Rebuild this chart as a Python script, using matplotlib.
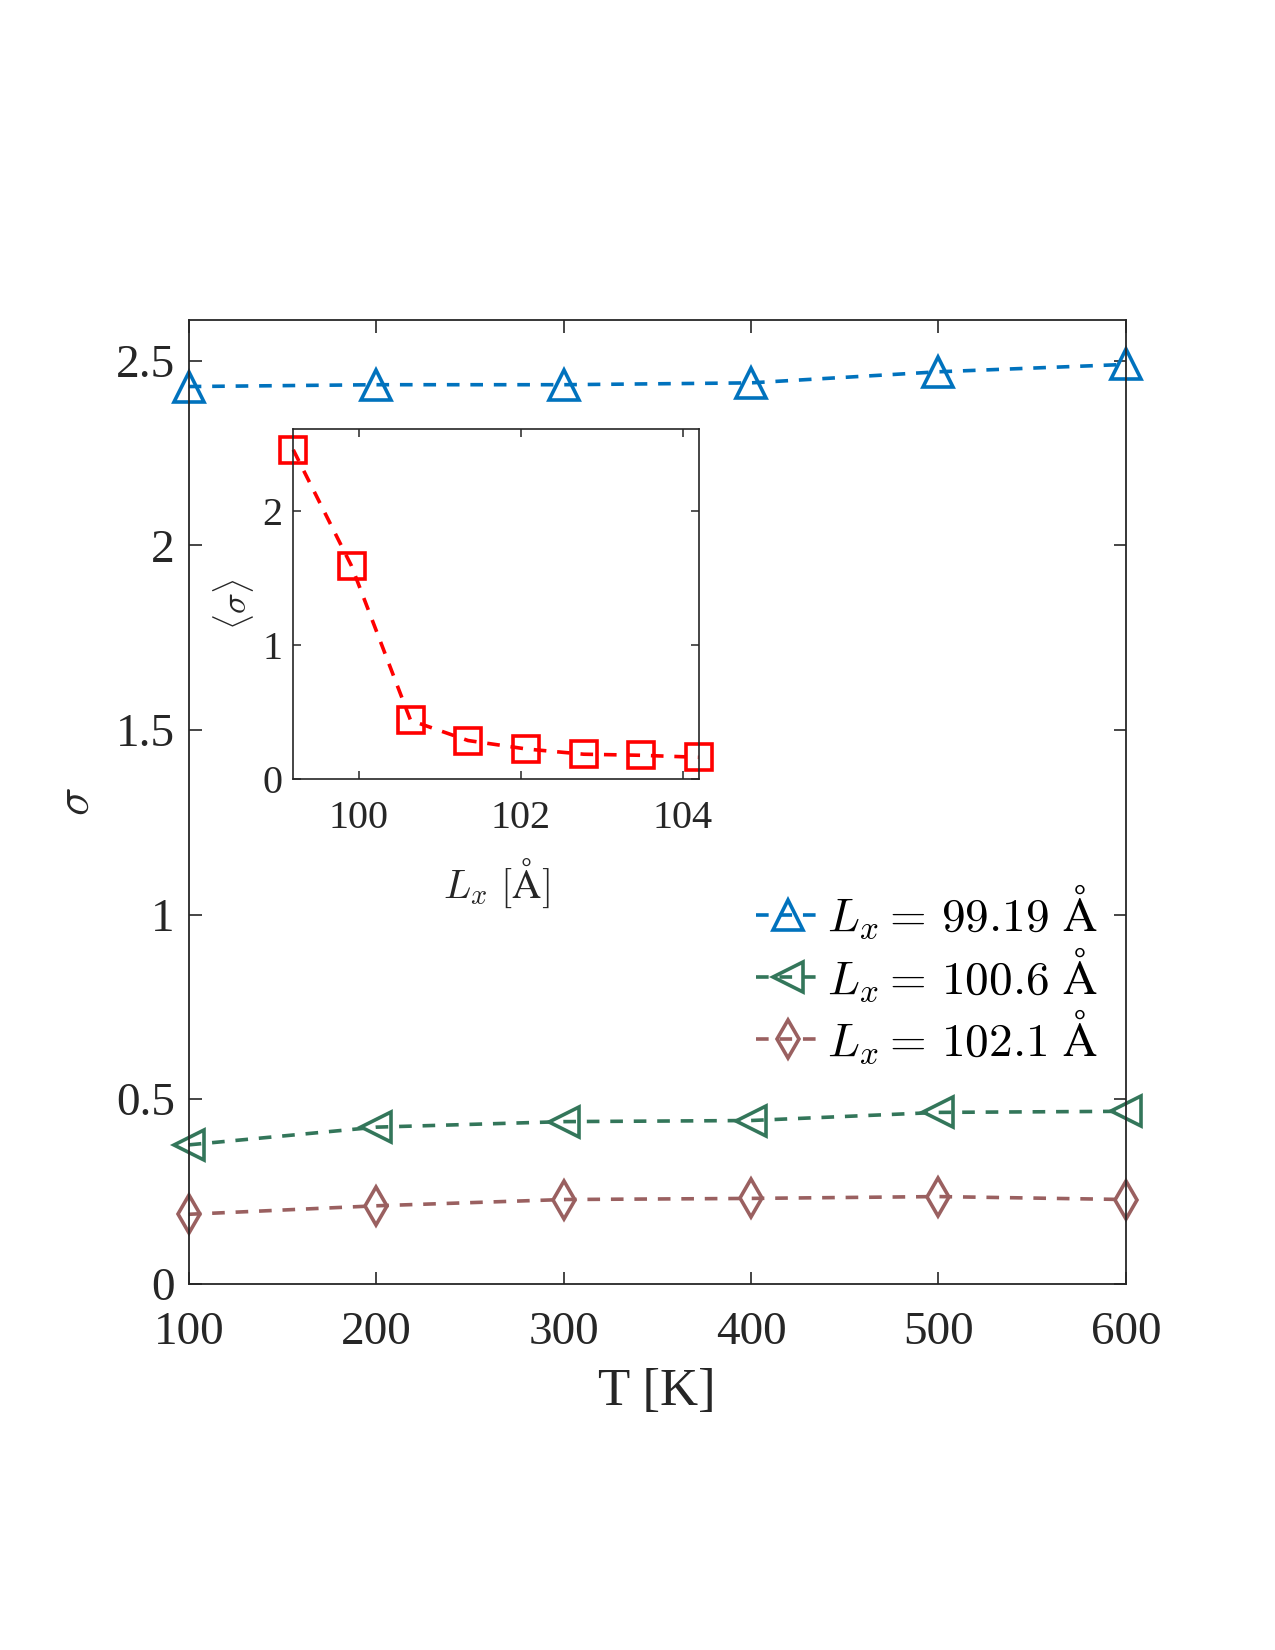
import numpy as np
import matplotlib as mpl
mpl.use('Agg')
import matplotlib.pyplot as plt

plt.rcParams['font.family'] = ['Liberation Serif', 'DejaVu Serif']
plt.rcParams['mathtext.fontset'] = 'cm'

# main panel data
temps = [100, 200, 300, 400, 500, 600]
sigma_9919 = [2.43, 2.435, 2.435, 2.44, 2.47, 2.49]
sigma_1006 = [0.376, 0.424, 0.439, 0.442, 0.464, 0.467]
sigma_1021 = [0.188, 0.211, 0.228, 0.231, 0.236, 0.228]
legend_labels = [r'$L_x =\,99.19\ \mathrm{\AA}$',
                 r'$L_x =\,100.6\ \mathrm{\AA}$',
                 r'$L_x =\,102.1\ \mathrm{\AA}$']

# inset data: mean sigma vs box length
lx_vals = [99.19, 99.91, 100.64, 101.35, 102.07, 102.78, 103.49, 104.2]
sigma_mean = [2.455, 1.59, 0.44, 0.29, 0.227, 0.188, 0.18, 0.165]

c_blue = '#0072BD'
c_green = '#33765A'
c_brown = '#9A6060'
c_red = '#FF0000'
c_axis = '#262626'

fig = plt.figure(figsize=(12.75, 16.5), dpi=100)
ax = fig.add_axes([0.148, 0.222, 0.735, 0.584])

dash = (3.5, 3)
lw = 2.6
ax.plot(temps, sigma_9919, ls='--', dashes=dash, color=c_blue, lw=lw,
        marker='^', ms=21, mfc='none', mew=lw, clip_on=False, label=legend_labels[0])
ax.plot(temps, sigma_1006, ls='--', dashes=dash, color=c_green, lw=lw,
        marker='<', ms=21, mfc='none', mew=lw, clip_on=False, label=legend_labels[1])
ax.plot(temps, sigma_1021, ls='--', dashes=dash, color=c_brown, lw=lw,
        marker='d', ms=19, mfc='none', mew=lw, clip_on=False, label=legend_labels[2])

ax.set_xlim(100, 600)
ax.set_ylim(0, 2.61)
ax.set_xticks(temps)
ax.set_yticks([0, 0.5, 1, 1.5, 2, 2.5])
ax.set_yticklabels(['0', '0.5', '1', '1.5', '2', '2.5'])
ax.tick_params(direction='in', length=9, width=1.2, top=True, right=True,
               labelsize=34, colors=c_axis)
ax.tick_params(axis='x', pad=20)
ax.tick_params(axis='y', pad=10)
for s in ax.spines.values():
    s.set_color(c_axis)
    s.set_linewidth(1.3)
ax.set_xlabel('T [K]', fontsize=38, color=c_axis, labelpad=10)
ax.set_ylabel(r'$\sigma$', fontsize=34, color=c_axis, labelpad=12)

leg = ax.legend(loc='center right', bbox_to_anchor=(0.99, 0.321),
                frameon=False, fontsize=34, handlelength=1.35,
                handletextpad=0.15, labelspacing=0.08, borderaxespad=0)

# inset
axi = fig.add_axes([0.230, 0.5276, 0.318, 0.2124])
axi.plot(lx_vals, sigma_mean, ls='--', dashes=dash, color=c_red, lw=lw,
         marker='s', ms=19, mfc='none', mew=lw, clip_on=False)
axi.set_xlim(99.19, 104.2)
axi.set_ylim(0, 2.61)
axi.set_xticks([100, 102, 104])
axi.set_yticks([0, 1, 2])
axi.tick_params(direction='in', length=6, width=1.1, top=True, right=True,
                labelsize=29, colors=c_axis)
axi.tick_params(axis='x', pad=15)
axi.tick_params(axis='y', pad=8)
for s in axi.spines.values():
    s.set_color(c_axis)
    s.set_linewidth(1.2)
axi.set_xlabel(r'$L_x\ [\mathrm{\AA}]$', fontsize=29, color=c_axis, labelpad=14)
axi.set_ylabel(r'$\langle\sigma\rangle$', fontsize=25, color=c_axis, labelpad=4)

fig.savefig('out.png', dpi=100)
